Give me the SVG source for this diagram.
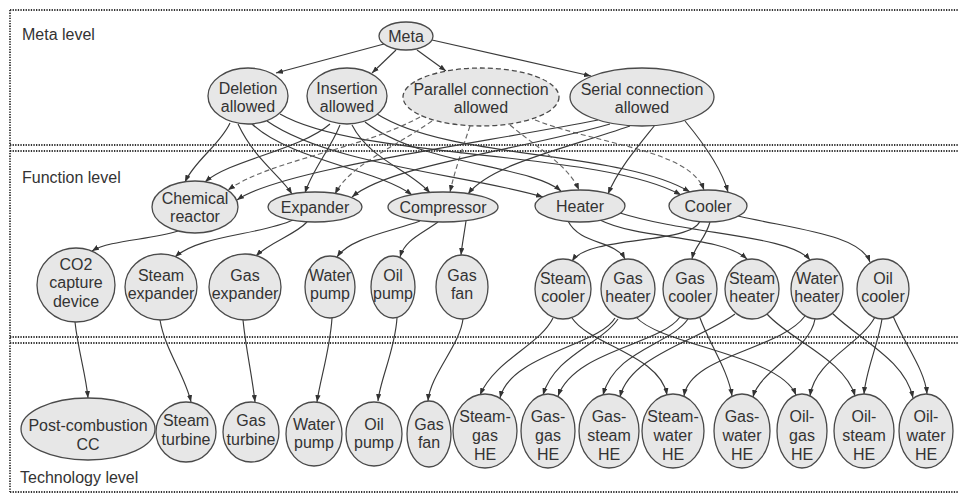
<svg xmlns="http://www.w3.org/2000/svg" width="958" height="494" viewBox="0 0 958 494">
<style>
text{font-family:"Liberation Sans",Arial,sans-serif;font-size:16px;fill:#333;text-anchor:middle}
text.lv{text-anchor:start}
.n ellipse{fill:#e7e7e7;stroke:#4a4a4a;stroke-width:1.3}
.n ellipse.dash{stroke-dasharray:5 3}
.e path{fill:none;stroke:#3a3a3a;stroke-width:1.15;marker-end:url(#ah)}
.e path.d{stroke:#666;stroke-dasharray:5 3}
.f line{stroke:#333;stroke-width:1.8;stroke-dasharray:1.3 1.3}
</style>
<defs>
<marker id="ah" viewBox="0 0 8 6" markerWidth="7" markerHeight="5.5" refX="8" refY="3" orient="auto" markerUnits="userSpaceOnUse">
<path d="M0,0 L8,3 L0,6 z" fill="#333"/>
</marker>
</defs>
<rect width="958" height="494" fill="#fff"/>
<g class="f" id="frame">
<line x1="10" y1="10" x2="958" y2="10"/>
<line x1="10" y1="10" x2="10" y2="492"/>
<line x1="10" y1="145" x2="958" y2="145"/>
<line x1="10" y1="151" x2="958" y2="151"/>
<line x1="10" y1="337" x2="958" y2="337"/>
<line x1="10" y1="343" x2="958" y2="343"/>
<line x1="10" y1="492" x2="958" y2="492"/>
</g>
<g id="levels">
<text class="lv" x="22" y="40">Meta level</text>
<text class="lv" x="22" y="183">Function level</text>
<text class="lv" x="20" y="483">Technology level</text>
</g>
<g class="e" id="connectors">
<path d="M384,44 L276,73"/>
<path d="M396,50 L372,73"/>
<path d="M417,50 L446,71"/>
<path d="M432,40 L591,76"/>
<path d="M230,123 C220,145 195,160 185,182"/>
<path d="M238,124 C255,160 280,175 292,194"/>
<path d="M252,124 C290,160 380,170 412,195"/>
<path d="M267,121 C330,165 470,175 543,197"/>
<path d="M280,114 C360,160 600,150 681,195"/>
<path d="M330,124 C300,150 230,160 205,182"/>
<path d="M340,125 C330,150 312,170 305,193"/>
<path d="M352,125 C370,160 410,170 430,193"/>
<path d="M365,122 C420,165 530,165 561,191"/>
<path d="M377,114 C450,160 620,150 690,192"/>
<path class="d" d="M420,117 C360,150 270,160 228,190"/>
<path class="d" d="M432,121 C390,150 350,165 335,194"/>
<path class="d" d="M470,126 C462,150 455,170 450,192"/>
<path class="d" d="M510,125 C540,150 568,165 579,190"/>
<path class="d" d="M535,120 C600,145 690,150 704,190"/>
<path d="M598,120 C470,145 280,170 237,200"/>
<path d="M610,124 C520,150 390,165 352,197"/>
<path d="M630,126 C560,150 490,165 468,194"/>
<path d="M655,125 C635,150 618,170 608,194"/>
<path d="M685,121 C705,145 722,170 728,192"/>
<path d="M178,231 C150,240 110,240 92,251"/>
<path d="M293,220 C260,235 200,235 175,257"/>
<path d="M307,222 C295,235 270,242 256,256"/>
<path d="M420,221 C390,232 350,238 337,257"/>
<path d="M438,222 C420,235 405,240 400,257"/>
<path d="M466,221 C464,235 462,245 461,255"/>
<path d="M568,221 C580,245 615,240 625,259"/>
<path d="M600,220 C640,240 720,235 747,259"/>
<path d="M620,213 C690,235 790,235 810,260"/>
<path d="M700,221 C690,245 590,235 572,261"/>
<path d="M710,222 C705,240 695,245 692,259"/>
<path d="M738,216 C800,230 860,235 870,262"/>
<path d="M75,322 C78,350 86,375 88,398"/>
<path d="M160,320 C165,350 185,375 191,402"/>
<path d="M243,320 C246,350 252,375 255,402"/>
<path d="M332,318 C330,350 320,380 317,402"/>
<path d="M397,318 C395,350 380,380 378,401"/>
<path d="M463,319 C460,345 430,375 428,401"/>
<path d="M553,318 C540,345 495,360 480,395"/>
<path d="M615,318 C600,345 510,355 500,398"/>
<path d="M618,319 C600,345 555,355 543,395"/>
<path d="M680,317 C660,345 575,350 558,396"/>
<path d="M688,319 C670,345 615,350 603,395"/>
<path d="M735,314 C700,340 630,355 620,397"/>
<path d="M572,318 C590,345 660,355 667,395"/>
<path d="M805,316 C780,350 690,355 684,396"/>
<path d="M700,318 C710,345 728,370 732,396"/>
<path d="M815,319 C810,350 760,370 753,397"/>
<path d="M636,317 C660,345 780,355 796,395"/>
<path d="M875,317 C860,345 815,360 810,396"/>
<path d="M767,314 C790,340 845,360 855,396"/>
<path d="M882,319 C878,345 866,370 864,394"/>
<path d="M832,313 C860,340 905,360 913,398"/>
<path d="M893,316 C905,345 925,370 927,394"/>
</g>
<g class="n" id="meta"><ellipse cx="406" cy="36" rx="27" ry="14"/><text x="406" y="42">Meta</text></g>
<g class="n" id="deletion"><ellipse cx="248" cy="96" rx="40" ry="28"/><text x="248" y="94">Deletion</text><text x="248" y="112">allowed</text></g>
<g class="n" id="insertion"><ellipse cx="347" cy="96" rx="40" ry="28"/><text x="347" y="94">Insertion</text><text x="347" y="112">allowed</text></g>
<g class="n" id="parallel"><ellipse class="dash" cx="481" cy="97" rx="78" ry="29"/><text x="481" y="95">Parallel connection</text><text x="481" y="113">allowed</text></g>
<g class="n" id="serial"><ellipse cx="642" cy="97" rx="72" ry="29"/><text x="642" y="95">Serial connection</text><text x="642" y="113">allowed</text></g>
<g class="n" id="chemical-reactor"><ellipse cx="195" cy="207" rx="43" ry="26"/><text x="195" y="204">Chemical</text><text x="195" y="222">reactor</text></g>
<g class="n" id="expander"><ellipse cx="315" cy="207" rx="47" ry="15"/><text x="315" y="213">Expander</text></g>
<g class="n" id="compressor"><ellipse cx="443" cy="207" rx="55" ry="15"/><text x="443" y="213">Compressor</text></g>
<g class="n" id="heater"><ellipse cx="580" cy="206" rx="45" ry="16"/><text x="580" y="212">Heater</text></g>
<g class="n" id="cooler"><ellipse cx="708" cy="206" rx="39" ry="16"/><text x="708" y="212">Cooler</text></g>
<g class="n" id="co2-capture"><ellipse cx="76" cy="285" rx="39" ry="37"/><text x="76" y="270">CO2</text><text x="76" y="288">capture</text><text x="76" y="307">device</text></g>
<g class="n" id="steam-expander"><ellipse cx="161" cy="287" rx="36" ry="33"/><text x="161" y="281">Steam</text><text x="161" y="299">expander</text></g>
<g class="n" id="gas-expander"><ellipse cx="245" cy="287" rx="36" ry="33"/><text x="245" y="281">Gas</text><text x="245" y="299">expander</text></g>
<g class="n" id="water-pump-f"><ellipse cx="330" cy="287" rx="25" ry="31"/><text x="330" y="281">Water</text><text x="330" y="299">pump</text></g>
<g class="n" id="oil-pump-f"><ellipse cx="393" cy="287" rx="22" ry="31"/><text x="393" y="281">Oil</text><text x="393" y="299">pump</text></g>
<g class="n" id="gas-fan-f"><ellipse cx="462" cy="287" rx="26" ry="32"/><text x="462" y="281">Gas</text><text x="462" y="299">fan</text></g>
<g class="n" id="steam-cooler"><ellipse cx="563" cy="289" rx="28" ry="30"/><text x="563" y="284">Steam</text><text x="563" y="302">cooler</text></g>
<g class="n" id="gas-heater"><ellipse cx="628" cy="289" rx="27" ry="30"/><text x="628" y="284">Gas</text><text x="628" y="302">heater</text></g>
<g class="n" id="gas-cooler"><ellipse cx="690" cy="289" rx="27" ry="30"/><text x="690" y="284">Gas</text><text x="690" y="302">cooler</text></g>
<g class="n" id="steam-heater"><ellipse cx="752" cy="289" rx="27" ry="30"/><text x="752" y="284">Steam</text><text x="752" y="302">heater</text></g>
<g class="n" id="water-heater"><ellipse cx="817" cy="289" rx="26" ry="30"/><text x="817" y="284">Water</text><text x="817" y="302">heater</text></g>
<g class="n" id="oil-cooler"><ellipse cx="883" cy="289" rx="26" ry="30"/><text x="883" y="284">Oil</text><text x="883" y="302">cooler</text></g>
<g class="n" id="post-combustion"><ellipse cx="88" cy="429" rx="67" ry="31"/><text x="88" y="431">Post-combustion</text><text x="88" y="450">CC</text></g>
<g class="n" id="steam-turbine"><ellipse cx="186" cy="432" rx="30" ry="30"/><text x="186" y="426">Steam</text><text x="186" y="445">turbine</text></g>
<g class="n" id="gas-turbine"><ellipse cx="251" cy="432" rx="28" ry="30"/><text x="251" y="426">Gas</text><text x="251" y="445">turbine</text></g>
<g class="n" id="water-pump-t"><ellipse cx="314" cy="434" rx="28" ry="32"/><text x="314" y="430">Water</text><text x="314" y="448">pump</text></g>
<g class="n" id="oil-pump-t"><ellipse cx="374" cy="434" rx="28" ry="32"/><text x="374" y="430">Oil</text><text x="374" y="448">pump</text></g>
<g class="n" id="gas-fan-t"><ellipse cx="429" cy="434" rx="22" ry="33"/><text x="429" y="430">Gas</text><text x="429" y="448">fan</text></g>
<g class="n" id="steam-gas-he"><ellipse cx="485" cy="431" rx="32" ry="37"/><text x="485" y="422">Steam-</text><text x="485" y="441">gas</text><text x="485" y="460">HE</text></g>
<g class="n" id="gas-gas-he"><ellipse cx="548" cy="431" rx="27" ry="37"/><text x="548" y="422">Gas-</text><text x="548" y="441">gas</text><text x="548" y="460">HE</text></g>
<g class="n" id="gas-steam-he"><ellipse cx="609" cy="431" rx="30" ry="37"/><text x="609" y="422">Gas-</text><text x="609" y="441">steam</text><text x="609" y="460">HE</text></g>
<g class="n" id="steam-water-he"><ellipse cx="673" cy="431" rx="31" ry="37"/><text x="673" y="422">Steam-</text><text x="673" y="441">water</text><text x="673" y="460">HE</text></g>
<g class="n" id="gas-water-he"><ellipse cx="742" cy="431" rx="28" ry="37"/><text x="742" y="422">Gas-</text><text x="742" y="441">water</text><text x="742" y="460">HE</text></g>
<g class="n" id="oil-gas-he"><ellipse cx="802" cy="431" rx="25" ry="37"/><text x="802" y="422">Oil-</text><text x="802" y="441">gas</text><text x="802" y="460">HE</text></g>
<g class="n" id="oil-steam-he"><ellipse cx="864" cy="431" rx="30" ry="37"/><text x="864" y="422">Oil-</text><text x="864" y="441">steam</text><text x="864" y="460">HE</text></g>
<g class="n" id="oil-water-he"><ellipse cx="926" cy="431" rx="27" ry="37"/><text x="926" y="422">Oil-</text><text x="926" y="441">water</text><text x="926" y="460">HE</text></g>
</svg>
